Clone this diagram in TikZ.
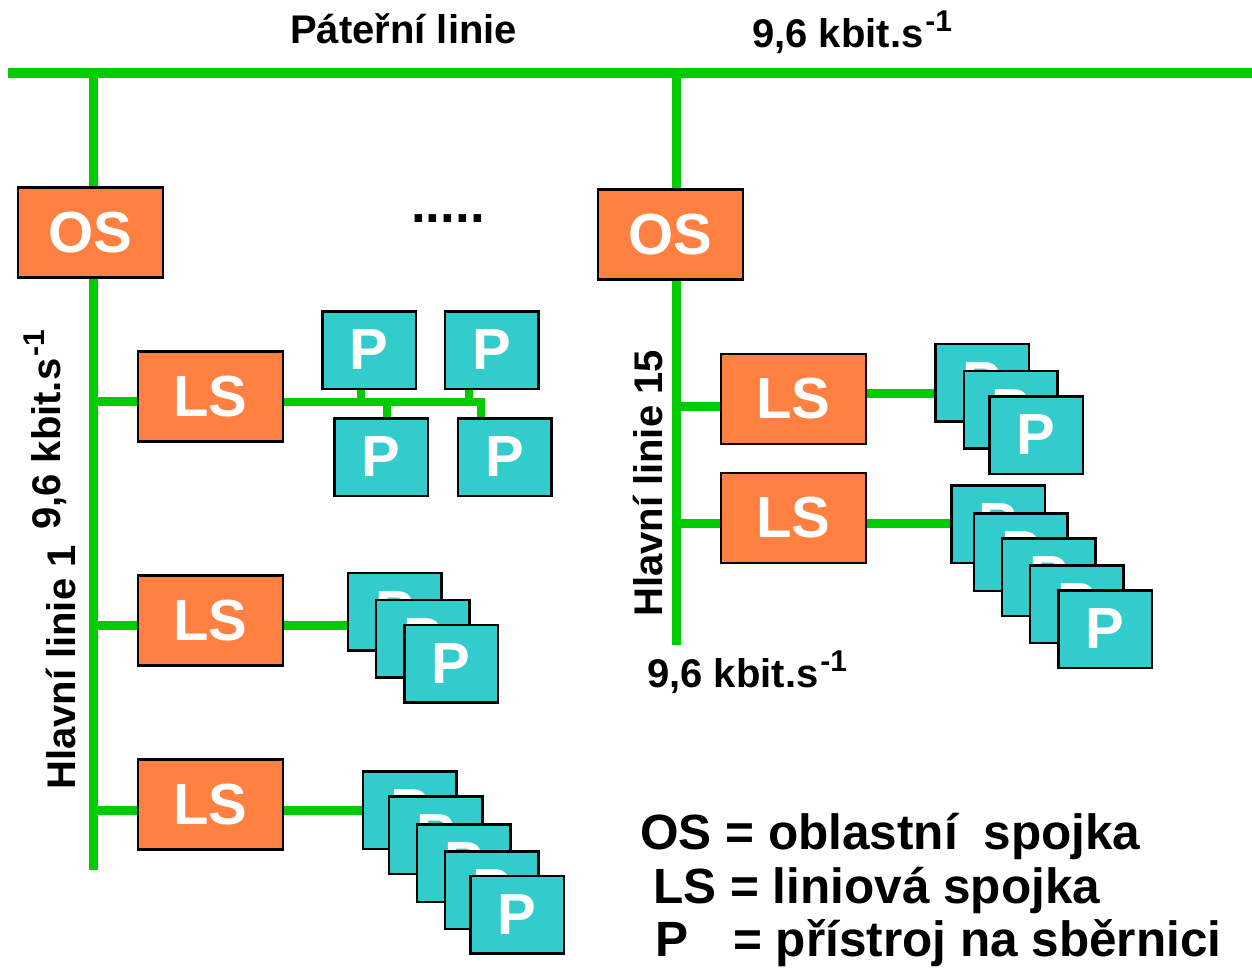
\documentclass[tikz,border=0pt]{standalone}
\usepackage{fontspec}
\setmainfont{Liberation Sans}
\usetikzlibrary{positioning,calc}
\definecolor{osorange}{HTML}{FF8040}
\definecolor{pteal}{HTML}{33CCCC}
\definecolor{linegreen}{HTML}{00CC00}
\newcommand{\perSec}{\hspace{2pt}\raisebox{16pt}{\fontsize{30}{30}\selectfont -1}}

\begin{document}
\begin{tikzpicture}[x=1pt, y=-1pt,
    box/.style={draw, line width=2.5pt, inner sep=0pt, text=white,
        font=\fontsize{58}{58}\selectfont\bfseries},
    coupler/.style={box, fill=osorange, minimum width=145pt, minimum height=90pt},
    device/.style={box, fill=pteal, minimum width=93.5pt, minimum height=77.5pt},
    wire/.style={draw=linegreen, line width=9pt},
    txt/.style={inner sep=0pt, font=\fontsize{40}{40}\selectfont\bfseries}]

    \useasboundingbox (0,0) rectangle (1252,967);

    % backbone and main lines
    \coordinate (bl) at (8,73);
    \coordinate (br) at (1252,73);
    \coordinate (t1) at (93,73);
    \coordinate (t1e) at (93,870);
    \coordinate (t2) at (676,73);
    \coordinate (t2e) at (676,645);
    \draw[wire, line width=10pt] (bl) -- (br);
    \draw[wire] (t1) -- (t1e);
    \draw[wire] (t2) -- (t2e);

    % couplers
    \node [coupler] (OS1) at (90.5,232.5) {OS};
    \node [coupler] (OS2) at (670.5,234.5) {OS};
    \node [coupler] (LS1) at (210.5,396.5) {LS};
    \node [coupler] (LS2) at (210.5,620.5) {LS};
    \node [coupler] (LS3) at (210.5,804.5) {LS};
    \node [coupler] (LS4) at (793.5,399) {LS};
    \node [coupler] (LS5) at (793.5,518) {LS};

    % devices
    \node [device] (PA1) at (369,350) {P};
    \node [device] (PA2) at (491.5,350) {P};
    \node [device] (PA3) at (381,457) {P};
    \node [device] (PA4) at (504.5,457) {P};

    \node [device] (PB1) at (394.5,611.5) {P};
    \node [device] (PB2) at (422.5,638.5) {P};
    \node [device] (PB3) at (451,663.5) {P};

    \node [device] (PC1) at (409.5,810) {P};
    \node [device] (PC2) at (435.5,835) {P};
    \node [device] (PC3) at (463.5,863) {P};
    \node [device] (PC4) at (491.5,890) {P};
    \node [device] (PC5) at (517,914.5) {P};

    \node [device] (PD1) at (982,382.5) {P};
    \node [device] (PD2) at (1010.5,409.5) {P};
    \node [device] (PD3) at (1036,435) {P};

    \node [device] (PE1) at (998,524) {P};
    \node [device] (PE2) at (1020.5,552) {P};
    \node [device] (PE3) at (1048.5,577) {P};
    \node [device] (PE4) at (1076.5,604) {P};
    \node [device] (PE5) at (1105,629) {P};

    % branches from the main lines
    \coordinate (a1) at ([yshift=-5pt]LS1.west);
    \coordinate (a2) at ([yshift=-5pt]LS2.west);
    \coordinate (a3) at ([yshift=-5.5pt]LS3.west);
    \coordinate (a4) at ([yshift=-7.5pt]LS4.west);
    \coordinate (a5) at ([yshift=-5pt]LS5.west);
    \draw[wire] (a1 -| t1) -- (a1);
    \draw[wire] (a2 -| t1) -- (a2);
    \draw[wire] (a3 -| t1) -- (a3);
    \draw[wire] (a4 -| t2) -- (a4);
    \draw[wire] (a5 -| t2) -- (a5);

    % lines to the devices
    \coordinate (pa) at ([yshift=-5pt]LS1.east);
    \coordinate (dA1) at ([xshift=-8pt]PA1.south);
    \coordinate (dA2) at ([xshift=-22.5pt]PA2.south);
    \coordinate (dA3) at ([xshift=6pt]PA3.north);
    \draw[wire, line width=8pt] (pa) -| ([xshift=-23.5pt]PA4.north);
    \draw[wire, line width=8pt] (dA1) -- (dA1 |- pa);
    \draw[wire, line width=8pt] (dA2) -- (dA2 |- pa);
    \draw[wire, line width=8pt] (dA3) -- (dA3 |- pa);

    \coordinate (pb) at ([yshift=-5pt]LS2.east);
    \coordinate (pc) at ([yshift=-5.5pt]LS3.east);
    \coordinate (pd) at ([yshift=5.5pt]LS4.east);
    \coordinate (pe) at ([yshift=-5pt]LS5.east);
    \draw[wire] (pb) -- (pb -| PB1.west);
    \draw[wire] (pc) -- (pc -| PC1.west);
    \draw[wire] (pd) -- (pd -| PD1.west);
    \draw[wire] (pe) -- (pe -| PE1.west);

    % labels
    \node [txt, anchor=base west] (backbone) at (290,43) {Páteřní linie};
    \node [txt, anchor=base west] (rate0) at (752,47) {9,6 kbit.s\perSec};
    \node [txt, anchor=base west, rotate=90] (rate1) at (60,530) {9,6 kbit.s\perSec};
    \node [txt, anchor=base west, rotate=90] (main1) at (75,790) {Hlavní linie 1};
    \node [txt, anchor=base west, rotate=90] (main15) at (662,617) {Hlavní linie 15};
    \node [txt, anchor=base west] (rate15) at (647,687) {9,6 kbit.s\perSec};
    \node [txt, anchor=base west, font=\fontsize{53}{53}\selectfont\bfseries] (dots) at (411,222) {.....};

    % legend
    \node [txt, anchor=base west, font=\fontsize{49.5}{49.5}\selectfont\bfseries] (keyOS) at (640,849) {OS = oblastní\hspace{12pt} spojka};
    \node [txt, anchor=base west, font=\fontsize{49.5}{49.5}\selectfont\bfseries] (keyLS) at (653,903) {LS = liniová spojka};
    \node [txt, anchor=base west, font=\fontsize{49.5}{49.5}\selectfont\bfseries] (keyP) at (655,956) {\makebox[78pt][l]{P}= přístroj na sběrnici};
\end{tikzpicture}
\end{document}
